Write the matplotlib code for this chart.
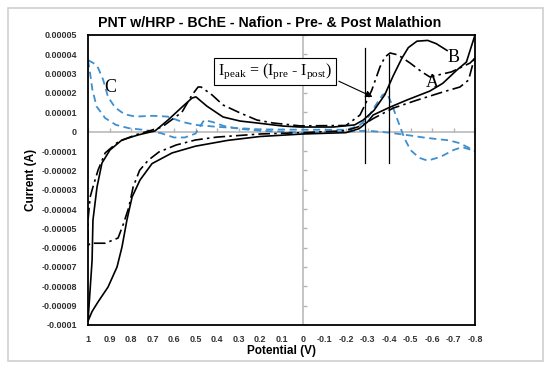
import numpy as np
import matplotlib
matplotlib.use('Agg')
import matplotlib.pyplot as plt
from matplotlib.patches import Rectangle

plt.rcParams['font.family'] = 'Liberation Sans'

# ---- data (potential in V, current in units of 1e-5 A) ----
# solid curve (B): upper branch traced back from B to 1 V, then lower branch out to -0.8 V
b_x = [-0.67, -0.62, -0.58, -0.53, -0.49, -0.46, -0.42, -0.38, -0.33, -0.28, -0.24, -0.14,
       0.014, 0.093, 0.214, 0.293, 0.372, 0.447, 0.498, 0.516, 0.563, 0.628, 0.688,
       0.767, 0.842, 0.898, 0.935, 0.958, 0.977, 0.981, 1.0,
       0.981, 0.953, 0.907, 0.865, 0.842, 0.819, 0.795, 0.758, 0.702, 0.609, 0.5,
       0.35, 0.2, 0.0, -0.2, -0.26, -0.30, -0.326, -0.405, -0.484, -0.59, -0.65,
       -0.716, -0.76, -0.78, -0.8]
b_y = [4.2, 4.55, 4.72, 4.68, 4.35, 3.8, 2.9, 1.9, 1.1, 0.6, 0.35, 0.24,
       0.24, 0.29, 0.45, 0.55, 0.76, 1.32, 1.8, 1.74, 1.27, 0.6, 0.04,
       -0.17, -0.43, -0.95, -1.62, -2.86, -4.58, -6.65, -9.8,
       -9.3, -8.8, -8.04, -7.0, -5.97, -4.57, -3.38, -2.5, -1.65, -1.1, -0.75,
       -0.45, -0.25, -0.12, -0.05, 0.15, 0.5, 0.86, 1.27, 1.64, 2.1, 2.5,
       3.19, 3.6, 4.3, 5.0]

# dash-dot curve (A)
a_x = [-0.8, -0.777, -0.69, -0.59, -0.553, -0.498, -0.442, -0.405, -0.381, -0.358, -0.32,
       -0.288, -0.265, -0.2, 0.014, 0.14, 0.214, 0.293, 0.372, 0.423, 0.474, 0.488,
       0.516, 0.563, 0.656, 0.70, 0.78, 0.86, 0.92, 0.953, 0.977, 0.99, 1.0, 1.0,
       0.99, 0.92, 0.86, 0.835, 0.81, 0.79, 0.76, 0.72, 0.67, 0.59, 0.5, 0.4, 0.2,
       0.0, -0.2, -0.27, -0.33, -0.42, -0.53, -0.65, -0.73, -0.77, -0.79, -0.8]
a_y = [3.8, 3.55, 3.09, 2.83, 3.09, 3.55, 3.97, 4.07, 3.86, 3.35, 2.15,
       1.38, 0.86, 0.32, 0.3, 0.45, 0.6, 0.97, 1.38, 1.9, 2.31, 2.31,
       1.9, 1.01, 0.24, 0.09, -0.17, -0.53, -1.1, -1.98, -2.86, -3.38, -4.58, -5.9,
       -5.77, -5.77, -5.5, -4.76, -3.91, -2.86, -2.0, -1.48, -1.05, -0.69, -0.43, -0.28, -0.12,
       -0.05, 0.05, 0.3, 0.7, 1.22, 1.63, 2.05, 2.31, 2.67, 3.5, 3.9]

# dashed blue curve (C), two branches from the 1 V end
c_up_x = [1.0, 0.975, 0.953, 0.93, 0.907, 0.874, 0.83, 0.78, 0.70, 0.63, 0.56, 0.5,
          0.4, 0.3, 0.2, 0.0, -0.2, -0.26, -0.3, -0.34, -0.37, -0.39, -0.41, -0.44,
          -0.47, -0.5, -0.54, -0.58, -0.64, -0.70, -0.74, -0.8]
c_up_y = [3.7, 3.55, 3.3, 2.7, 1.8, 1.25, 0.9, 0.78, 0.82, 0.78, 0.5, 0.35,
          0.25, 0.18, 0.12, 0.1, 0.1, 0.3, 0.7, 1.4, 1.9, 2.0, 1.5, 0.6,
          -0.3, -0.95, -1.35, -1.5, -1.3, -0.95, -0.8, -1.0]
c_lo_x = [1.0, 0.99, 0.98, 0.96, 0.92, 0.87, 0.81, 0.73, 0.66, 0.6, 0.55, 0.5,
          0.46, 0.42, 0.37, 0.3, 0.2, 0.0, -0.2, -0.3, -0.4, -0.5, -0.56, -0.62,
          -0.68, -0.73, -0.8]
c_lo_y = [3.7, 3.0, 2.2, 1.3, 0.7, 0.35, 0.18, 0.08, -0.08, -0.3, -0.3, -0.1,
          0.6, 0.5, 0.3, 0.15, 0.05, -0.05, 0.0, 0.05, -0.05, -0.2, -0.3, -0.38,
          -0.45, -0.6, -1.0]

x_ticks = [1, 0.9, 0.8, 0.7, 0.6, 0.5, 0.4, 0.3, 0.2, 0.1, 0, -0.1, -0.2, -0.3, -0.4,
           -0.5, -0.6, -0.7, -0.8]
x_labels = ['1', '0.9', '0.8', '0.7', '0.6', '0.5', '0.4', '0.3', '0.2', '0.1', '0',
            '-0.1', '-0.2', '-0.3', '-0.4', '-0.5', '-0.6', '-0.7', '-0.8']
y_ticks = [5, 4, 3, 2, 1, 0, -1, -2, -3, -4, -5, -6, -7, -8, -9, -10]
y_labels = ['0.00005', '0.00004', '0.00003', '0.00002', '0.00001', '0', '-0.00001',
            '-0.00002', '-0.00003', '-0.00004', '-0.00005', '-0.00006', '-0.00007',
            '-0.00008', '-0.00009', '-0.0001']

peak_lines = [-0.29, -0.40]
peak_tops = [4.33, 3.97]
peak_bottom = -1.62

scale = 1e-5

fig = plt.figure(figsize=(5.5, 3.7), dpi=100)
fig.patches.append(Rectangle((8 / 550, 9 / 370), 535 / 550, 353 / 370, transform=fig.transFigure,
                             fill=False, edgecolor='#cfcfcf', lw=1.2))
ax = fig.add_axes([88 / 550, 45 / 370, 387 / 550, 290 / 370])

# zero lines with small ticks (Excel style)
ax.axhline(0, color='#b4b4b4', lw=1.1, zorder=1)
ax.axvline(0, color='#b4b4b4', lw=1.1, zorder=1)
ax.plot(x_ticks, [0] * len(x_ticks), ls='none', marker=2, ms=3, color='#b4b4b4', zorder=1)
ax.plot([0] * len(y_ticks), [v * scale for v in y_ticks], ls='none', marker=1, ms=3,
        color='#b4b4b4', zorder=1)

ax.plot(c_up_x, np.array(c_up_y) * scale, color='#3f8fcf', lw=1.3, ls=(0, (4, 2.5)), zorder=2)
ax.plot(c_lo_x, np.array(c_lo_y) * scale, color='#3f8fcf', lw=1.3, ls=(0, (4, 2.5)), zorder=2)
ax.plot(a_x, np.array(a_y) * scale, color='black', lw=1.2, ls=(0, (7, 2.5, 1.5, 2.5)), zorder=3)
ax.plot(b_x, np.array(b_y) * scale, color='black', lw=1.2, zorder=3)

for xv, top in zip(peak_lines, peak_tops):
    ax.plot([xv, xv], [peak_bottom * scale, top * scale], color='black', lw=0.9, zorder=3)

ax.text(0.13, 3.12 * scale,
        r'$\mathregular{I_{peak}}$ = ($\mathregular{I_{pre}}$ - $\mathregular{I_{post}}$)',
        family='Liberation Serif', fontsize=11.5, ha='center', va='center',
        bbox=dict(boxstyle='square,pad=0.25', fc='white', ec='black', lw=0.8), zorder=5)
ax.annotate('', xy=(-0.335, 1.74 * scale), xytext=(-0.155, 2.67 * scale),
            arrowprops=dict(arrowstyle='-|>', color='black', lw=0.8, mutation_scale=10), zorder=5)

ax.text(0.898, 2.31 * scale, 'C', family='Liberation Serif', fontsize=13, ha='center', va='center')
ax.text(-0.70, 3.85 * scale, 'B', family='Liberation Serif', fontsize=13, ha='center', va='center')
ax.text(-0.60, 2.55 * scale, 'A', family='Liberation Serif', fontsize=13, ha='center', va='center')

ax.set_xlim(1, -0.8)
ax.set_ylim(-10 * scale, 5 * scale)
ax.set_xticks(x_ticks)
ax.set_xticklabels(x_labels)
ax.set_yticks([v * scale for v in y_ticks])
ax.set_yticklabels(y_labels)
ax.tick_params(length=0, labelsize=6.5, colors='#333333')
ax.tick_params(axis='y', pad=8)
ax.tick_params(axis='x', pad=7)
for lab in ax.get_xticklabels() + ax.get_yticklabels():
    lab.set_fontweight('bold')
for sp in ax.spines.values():
    sp.set_linewidth(1.3)
    sp.set_color('black')

ax.set_xlabel('Potential (V)', fontsize=8.5, fontweight='bold', labelpad=1)
ax.set_ylabel('Current (A)', fontsize=8.5, fontweight='bold', labelpad=3)
fig.text(270 / 550, 1 - 23 / 370, 'PNT w/HRP - BChE - Nafion - Pre- & Post Malathion',
         ha='center', va='center', fontsize=10.2, fontweight='bold')

fig.savefig('out.png', dpi=100)
